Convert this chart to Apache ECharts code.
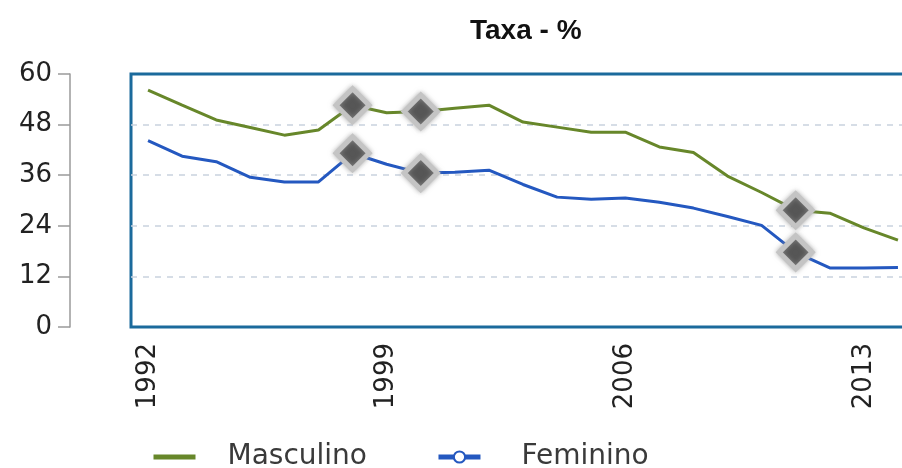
<!DOCTYPE html>
<html><head><meta charset="utf-8">
<script src="https://cdn.jsdelivr.net/npm/echarts@6/dist/echarts.min.js"></script>
<style>html,body{margin:0;padding:0;background:#fff}#c{width:902px;height:468px}</style>
</head><body><div id="c"></div>
<script>
const years = ['1992','1993','1994','1995','1996','1997','1998','1999','2000','2001','2002','2003','2004','2005','2006','2007','2008','2009','2010','2011','2012','2013','2014'];
const masculino = [56.2, 52.6, 49.1, 47.3, 45.5, 46.7, 52.6, 50.8, 51.1, 51.9, 52.6, 48.6, 47.4, 46.2, 46.2, 42.7, 41.4, 35.8, 31.9, 27.7, 27.0, 23.5, 20.6];
const feminino = [44.2, 40.5, 39.2, 35.5, 34.4, 34.4, 41.2, 38.6, 36.5, 36.7, 37.2, 33.8, 30.8, 30.3, 30.6, 29.6, 28.2, 26.2, 24.1, 17.7, 14.0, 14.0, 14.1];
const markedYears = ['1998', '2000', '2011'];
const seriesNames = ['Masculino', 'Feminino'];
const titleText = 'Taxa - %';

const chart = echarts.init(document.getElementById('c'), null, {renderer: 'canvas'});

function toData(vals) {
  return vals.map((v, i) => markedYears.includes(years[i])
    ? {value: v, symbol: 'diamond', symbolSize: 33,
       itemStyle: {color: '#565656', borderColor: '#c4c4c4', borderWidth: 5, shadowBlur: 5, shadowColor: 'rgba(150,150,150,0.7)'}}
    : {value: v, symbol: 'none'});
}

const lineColors = ['#67872a', '#2458c0'];

chart.setOption({
  animation: false,
  backgroundColor: '#fff',
  title: {
    text: titleText,
    left: 465,
    top: 12,
    textStyle: {fontFamily: 'Liberation Sans', fontWeight: 'bold', fontSize: 28, color: '#111'}
  },
  legend: {
    data: [
      {name: seriesNames[0], itemStyle: {color: 'rgba(0,0,0,0)', borderWidth: 0}, textStyle: {padding: [0, 0, 0, 27]}},
      {name: seriesNames[1]}
    ],
    left: 146,
    top: 438,
    itemWidth: 42,
    itemHeight: 14,
    itemGap: 69,
    lineStyle: {width: 5},
    textStyle: {fontFamily: 'DejaVu Sans', fontSize: 28, color: '#3a3a3a', padding: [0, 0, 0, 36]}
  },
  grid: {
    left: 131, top: 74, height: 253, width: 784,
    outerBoundsMode: 'none',
    show: true, borderColor: '#1b6a9c', borderWidth: 3, backgroundColor: 'transparent'
  },
  xAxis: {
    type: 'category',
    data: years,
    boundaryGap: true,
    axisLine: {show: false},
    axisTick: {show: false},
    axisLabel: {interval: 6, rotate: 90, margin: 16, fontFamily: 'DejaVu Sans', fontSize: 26, color: '#222'},
    splitLine: {show: false}
  },
  yAxis: {
    type: 'value',
    min: 0, max: 60, interval: 12,
    position: 'left',
    offset: 61,
    axisLine: {show: true, lineStyle: {color: '#9a9a9a', width: 1.5}},
    axisTick: {show: true, length: 12, lineStyle: {color: '#9a9a9a', width: 1.5}},
    axisLabel: {margin: 18, fontFamily: 'DejaVu Sans', fontSize: 26, color: '#222'},
    splitLine: {show: true, lineStyle: {color: ['rgba(0,0,0,0)', '#c9d2de', '#c9d2de', '#c9d2de', '#c9d2de', 'rgba(0,0,0,0)'], type: [6, 6], width: 1.5}}
  },
  series: [
    {
      name: seriesNames[0], type: 'line', data: toData(masculino),
      symbol: 'diamond', showSymbol: true, showAllSymbol: true,
      lineStyle: {color: lineColors[0], width: 3},
      itemStyle: {color: lineColors[0]},
      z: 3
    },
    {
      name: seriesNames[1], type: 'line', data: toData(feminino),
      symbol: 'emptyCircle', showSymbol: true, showAllSymbol: true,
      lineStyle: {color: lineColors[1], width: 3},
      itemStyle: {color: lineColors[1]},
      z: 3
    }
  ]
});
</script></body></html>
